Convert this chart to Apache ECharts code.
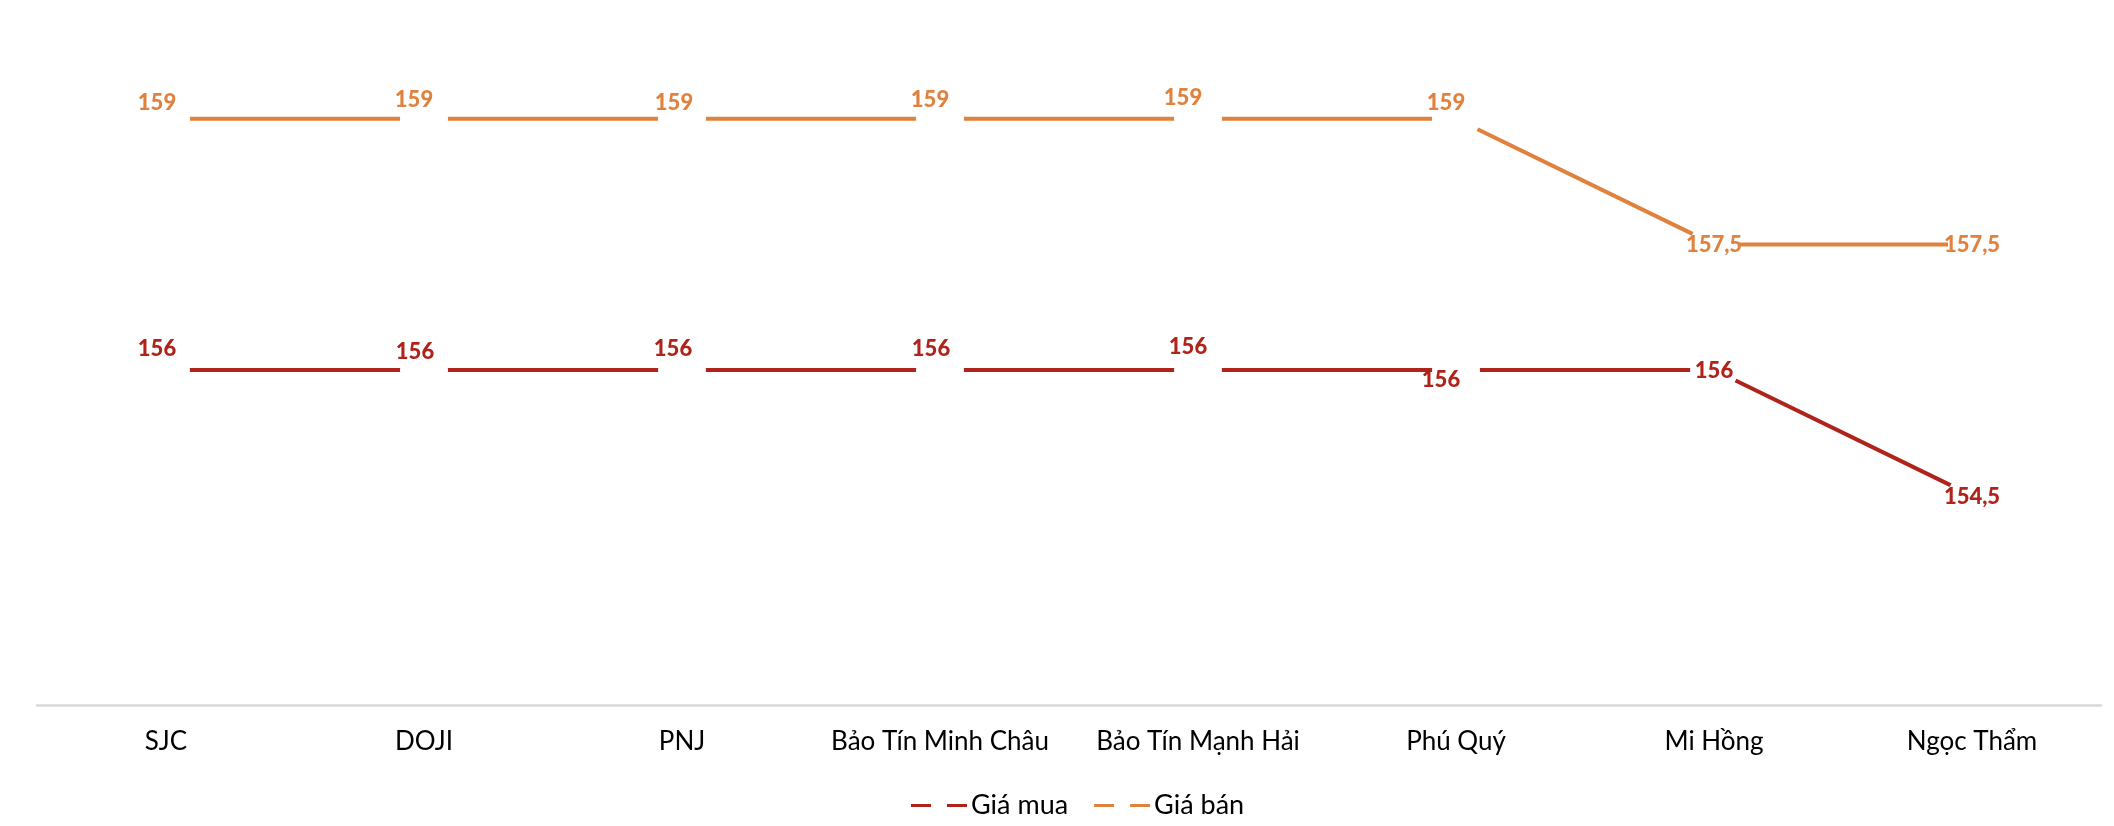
<!DOCTYPE html>
<html>
<head>
<meta charset="utf-8">
<script src="https://cdn.jsdelivr.net/npm/echarts@6/dist/echarts.min.js"></script>
<style>
  html, body { margin: 0; padding: 0; background: #fff; }
  #chart { width: 2114px; height: 826px; }
</style>
</head>
<body>
<div id="chart"></div>
<script>
// Gold price by dealer (million VND / tael)
var dealers = ['SJC', 'DOJI', 'PNJ', 'Bảo Tín Minh Châu', 'Bảo Tín Mạnh Hải', 'Phú Quý', 'Mi Hồng', 'Ngọc Thẩm'];
var buyPrices = [156, 156, 156, 156, 156, 156, 156, 154.5];
var sellPrices = [159, 159, 159, 159, 159, 159, 157.5, 157.5];
var seriesNames = ['Giá mua', 'Giá bán'];

// label nudges (px), Excel places its data labels a bit unevenly
var buyLabelNudge = [[-9, -21], [-9, -18], [-9, -21], [-9, -21], [-10, -23], [-15, 10], [0, 1], [0, 1]];
var sellLabelNudge = [[-9, -16], [-10, -19], [-8, -16], [-10, -19], [-15, -21], [-10, -16], [0, 1], [0, 1]];

var RED = '#B0231A';
var ORANGE = '#E0823E';
var FONT = 'Lato';

var fmtComma = function (v) {
  return String(v).replace('.', ',');
};

var buildData = function (values, nudges) {
  return values.map(function (v, i) {
    return { value: v, label: { offset: nudges[i] } };
  });
};

var lineSeries = function (name, values, nudges, color) {
  return {
    type: 'line',
    name: name,
    data: buildData(values, nudges),
    // white dots cut the line around each point, like the Excel original
    symbol: 'circle',
    symbolSize: 48,
    showSymbol: true,
    itemStyle: { color: '#fff', borderWidth: 0, opacity: 1 },
    lineStyle: { color: color, width: 4 },
    label: {
      show: true,
      position: 'inside',
      color: color,
      fontFamily: FONT,
      fontWeight: 900,
      fontSize: 22,
      formatter: function (p) { return fmtComma(p.value); }
    },
    emphasis: { disabled: true },
    silent: true
  };
};

var chart = echarts.init(document.getElementById('chart'));

chart.setOption({
  animation: false,
  backgroundColor: '#fff',
  grid: {
    left: 37,
    right: 13,
    top: 35,
    bottom: 121
  },
  legend: {
    left: 906,
    top: 787,
    itemWidth: 56,
    itemHeight: 3,
    itemGap: 26,
    data: [
      { name: seriesNames[0], icon: 'path://M0,0H20V3H0Z M36,0H56V3H36Z', itemStyle: { color: RED } },
      { name: seriesNames[1], icon: 'path://M0,0H20V3H0Z M36,0H56V3H36Z', itemStyle: { color: ORANGE } }
    ],
    textStyle: {
      color: '#000',
      fontFamily: FONT,
      fontSize: 27,
      padding: [0, 0, 0, -1]
    }
  },
  xAxis: {
    type: 'category',
    data: dealers,
    boundaryGap: true,
    axisLine: { show: true, lineStyle: { color: '#D9D9D9', width: 2.5 } },
    axisTick: { show: false },
    axisLabel: {
      color: '#000',
      fontFamily: FONT,
      fontSize: 26,
      margin: 24,
      interval: 0
    },
    splitLine: { show: false }
  },
  yAxis: {
    type: 'value',
    min: 152,
    max: 160,
    interval: 1,
    show: false,
    splitLine: { show: false }
  },
  series: [
    lineSeries(seriesNames[0], buyPrices, buyLabelNudge, RED),
    lineSeries(seriesNames[1], sellPrices, sellLabelNudge, ORANGE)
  ]
});
</script>
</body>
</html>
